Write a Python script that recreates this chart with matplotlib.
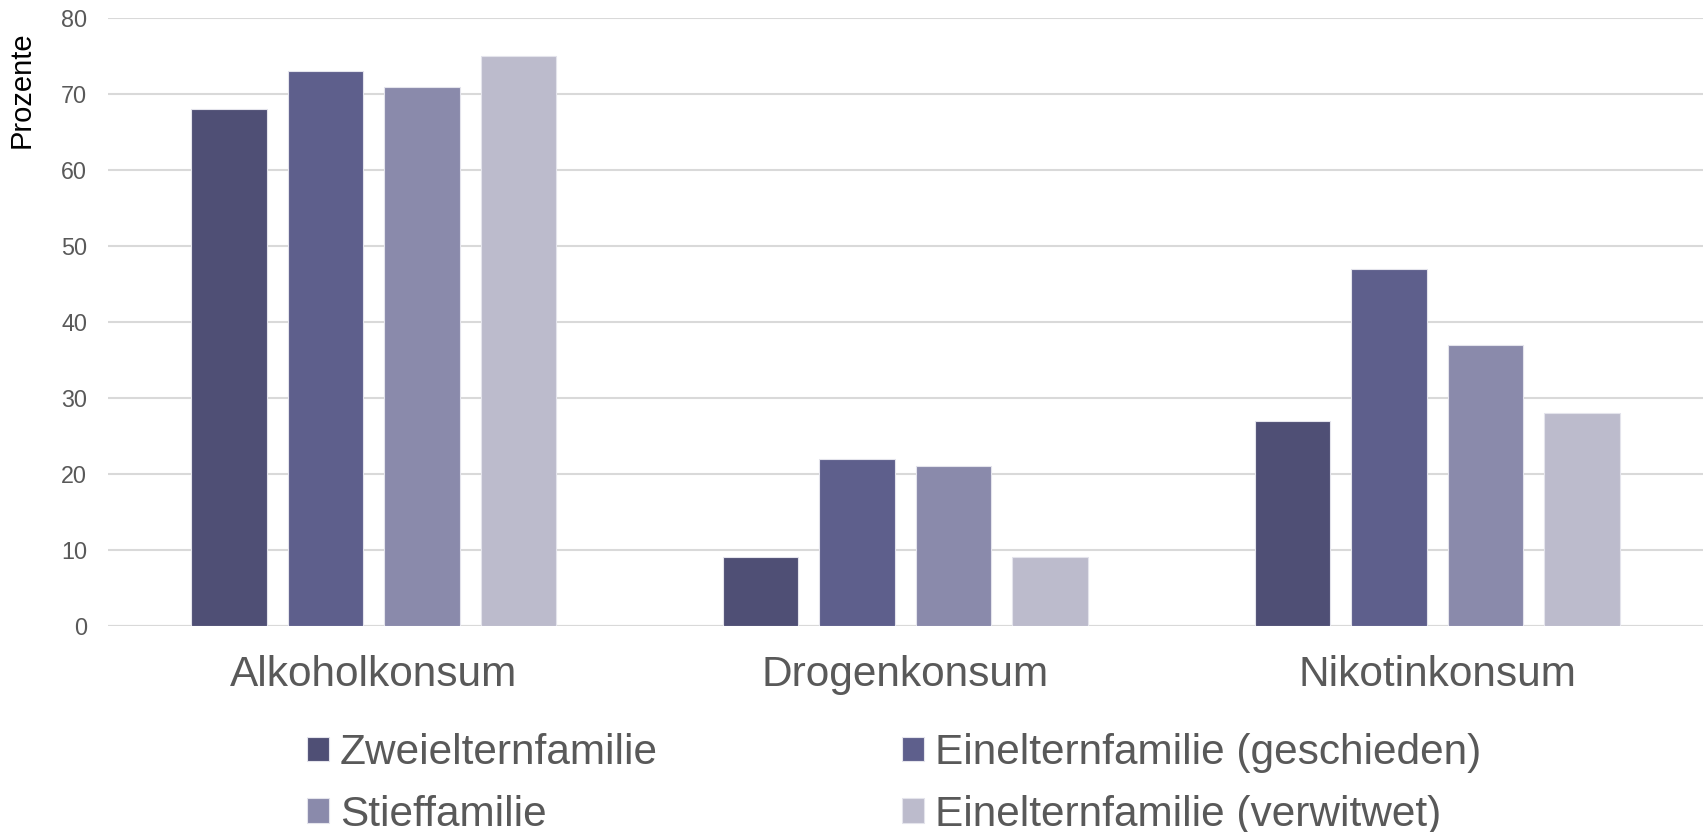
import matplotlib
matplotlib.use("Agg")
import matplotlib.pyplot as plt
import numpy as np

# Data
categories = ["Alkoholkonsum", "Drogenkonsum", "Nikotinkonsum"]
series_names = [
    "Zweielternfamilie",
    "Einelternfamilie (geschieden)",
    "Stieffamilie",
    "Einelternfamilie (verwitwet)",
]
zweieltern = [68, 9, 27]
geschieden = [73, 22, 47]
stief = [71, 21, 37]
verwitwet = [75, 9, 28]
y_ticks = [0, 10, 20, 30, 40, 50, 60, 70, 80]

colors = ["#4F4F75", "#5E5F8C", "#8A8AAB", "#BCBBCC"]
values = [zweieltern, geschieden, stief, verwitwet]

plt.rcParams["font.family"] = ["Liberation Sans", "DejaVu Sans"]
text_grey = "#595959"

fig = plt.figure(figsize=(17.08, 8.32), dpi=100)
ax = fig.add_axes([0.0632, 0.2480, 0.9338, 0.7300])

x = np.arange(len(categories))
bar_w = 0.142
step = 0.1815
offsets = (np.arange(4) - 1.5) * step

bars = []
for i, (vals, col) in enumerate(zip(values, colors)):
    b = ax.bar(x + offsets[i], vals, width=bar_w, color=col,
               edgecolor="#E4E4EC", linewidth=0.8, zorder=3,
               label=series_names[i])
    bars.append(b)

ax.set_xlim(-0.5, len(categories) - 0.5)
ax.set_ylim(0, 80)
ax.set_yticks(y_ticks)
ax.set_xticks(x)
ax.set_xticklabels(categories)

ax.grid(axis="y", color="#D9D9D9", linewidth=1.5, zorder=0)
ax.set_axisbelow(True)
for s in ax.spines.values():
    s.set_visible(False)
ax.axhline(0, color="#D9D9D9", linewidth=1.5, zorder=1)

ax.tick_params(axis="y", length=0, pad=15, labelsize=16.8, labelcolor=text_grey)
ax.tick_params(axis="x", length=0, pad=21, labelsize=30.5, labelcolor=text_grey)

fig.text(22 / 1708, 1 - 90 / 832, "Prozente", rotation=90, ha="center",
         va="center", fontsize=21, color="black")

# legend laid out column by column: left column first, then right column
order = [0, 2, 1, 3]
handles = [bars[i] for i in order]
labels = [series_names[i] for i in order]
leg = fig.legend(handles, labels, ncol=2, loc="upper left",
                 bbox_to_anchor=(307 / 1708, 1 - 733 / 832),
                 frameon=False, fontsize=30.5, labelcolor=text_grey,
                 handlelength=0.52, handleheight=0.52, handletextpad=0.26,
                 columnspacing=5.75, labelspacing=0.51, borderpad=0,
                 borderaxespad=0)

fig.savefig("out.png", dpi=100)
